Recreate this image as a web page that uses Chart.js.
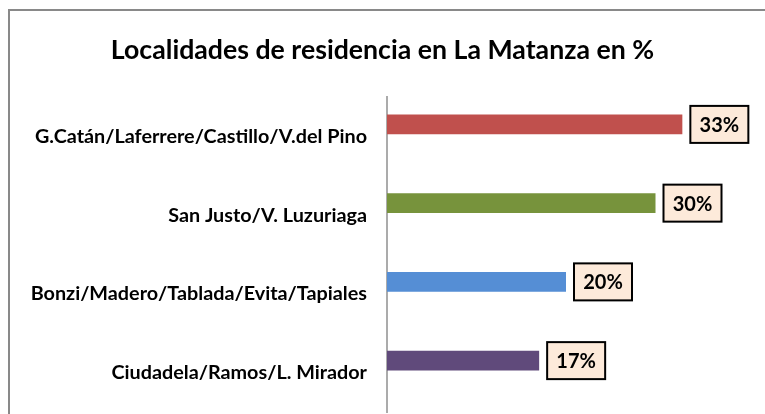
<!DOCTYPE html>
<html lang="es">

<head>
    <meta charset="UTF-8">
    <title>Localidades de residencia en La Matanza</title>
    <style>
        html, body { margin: 0; padding: 0; background: #fff; overflow: hidden; }
        #marco { position: absolute; left: 8px; top: 9px; width: 800px; height: 420px;
                 border-left: 2px solid #898989; border-top: 2px solid #898989; pointer-events: none; }
        #grafico { position: absolute; left: 0; top: 0; }
    </style>
</head>

<body>
    <canvas id="grafico" width="765" height="414"></canvas>
    <div id="marco"></div>

    <script src="https://cdn.jsdelivr.net/npm/chart.js@4.4.1/dist/chart.umd.min.js"></script>
    <script>
        // Datos
        const localidades = [
            'G.Catán/Laferrere/Castillo/V.del Pino',
            'San Justo/V. Luzuriaga',
            'Bonzi/Madero/Tablada/Evita/Tapiales',
            'Ciudadela/Ramos/L. Mirador'
        ];
        const porcentajes = [33, 30, 20, 17];
        const serieVacia = [null, null, null, null];
        const colores = ['#C0504D', '#77933C', '#558ED5', '#604A7B'];

        // Etiquetas con recuadro al final de cada barra
        const etiquetas = {
            id: 'etiquetas',
            afterDatasetsDraw(chart) {
                const ctx = chart.ctx;
                const meta = chart.getDatasetMeta(0);
                ctx.save();
                ctx.font = 'bold 20px Lato';
                ctx.textAlign = 'center';
                ctx.textBaseline = 'middle';
                meta.data.forEach((barra, i) => {
                    const w = 58, h = 37;
                    const x = barra.x + 8, y = barra.y - h / 2;
                    ctx.fillStyle = '#FDEADA';
                    ctx.fillRect(x, y, w, h);
                    ctx.lineWidth = 2;
                    ctx.strokeStyle = '#000';
                    ctx.strokeRect(x, y, w, h);
                    ctx.fillStyle = '#000';
                    ctx.fillText(porcentajes[i] + '%', x + w / 2, barra.y + 1);
                });
                ctx.restore();
            }
        };

        const grafica = new Chart(document.getElementById('grafico'), {
            type: 'bar',
            data: {
                labels: localidades,
                datasets: [{
                    data: porcentajes,
                    backgroundColor: colores,
                    categoryPercentage: 0.61,
                    barPercentage: 0.83
                }, {
                    data: serieVacia,
                    categoryPercentage: 0.61,
                    barPercentage: 0.83
                }]
            },
            options: {
                indexAxis: 'y',
                responsive: false,
                animation: false,
                layout: { padding: { left: 20, right: 20, top: 0, bottom: 2 } },
                plugins: {
                    legend: { display: false },
                    tooltip: { enabled: false },
                    title: {
                        display: true,
                        text: 'Localidades de residencia en La Matanza en %',
                        color: '#000',
                        font: { family: 'Lato', size: 26.7, weight: 'bold' },
                        padding: { top: 34, bottom: 31 }
                    }
                },
                scales: {
                    x: { display: false, min: 0, max: 40 },
                    y: {
                        grid: { display: false, drawTicks: false },
                        border: { display: true, color: '#ababab', width: 2 },
                        ticks: {
                            color: '#000',
                            padding: 20,
                            font: { family: 'Lato', size: 19.8, weight: 'bold' }
                        },
                        afterFit(scale) {
                            scale.width = 367;
                            scale.paddingTop = 0;
                            scale.paddingBottom = 0;
                        }
                    }
                }
            },
            plugins: [etiquetas]
        });
    </script>
</body>

</html>
